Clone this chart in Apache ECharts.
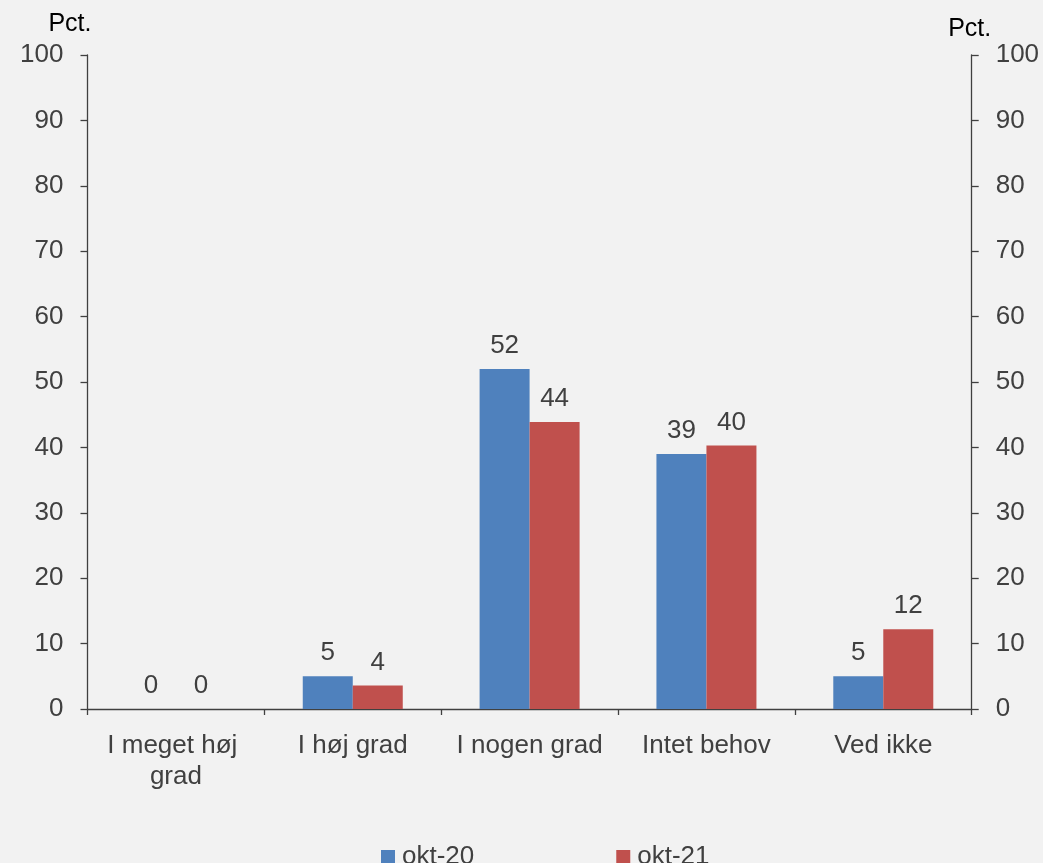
<!DOCTYPE html>
<html>
<head>
<meta charset="utf-8">
<script src="https://cdn.jsdelivr.net/npm/echarts@6/dist/echarts.min.js"></script>
<style>
html,body{margin:0;padding:0;background:#f2f2f2;}
#c{width:1043px;height:863px;}
</style>
</head>
<body>
<div id="c"></div>
<script>
const categories = ['I meget høj grad', 'I høj grad', 'I nogen grad', 'Intet behov', 'Ved ikke'];
const okt20 = [0, 5, 52, 39, 5];
const okt21 = [0, 3.6, 43.9, 40.3, 12.2];
const yTicks = { min: 0, max: 100, interval: 10 };
const seriesNames = ['okt-20', 'okt-21'];

const FONT = "'Liberation Sans', Arial, sans-serif";
const TXT = '#404040';
const chart = echarts.init(document.getElementById('c'), null, { renderer: 'canvas' });

const yAxisBase = {
  type: 'value', min: yTicks.min, max: yTicks.max, interval: yTicks.interval,
  splitLine: { show: false },
  axisLine: { show: true, lineStyle: { color: '#404040', width: 1.3 } },
  axisTick: { show: true, length: 7, lineStyle: { color: '#404040', width: 1.3 } },
  axisLabel: { color: TXT, fontSize: 26, fontFamily: FONT, margin: 24 },
  name: 'Pct.', nameLocation: 'end',
  nameTextStyle: { color: '#000', fontSize: 25, fontFamily: FONT }
};

const labelCfg = {
  show: true, position: 'top', distance: 10,
  color: TXT, fontSize: 26, fontFamily: FONT,
  formatter: p => Math.round(p.value)
};

chart.setOption({
  backgroundColor: '#f2f2f2',
  animation: false,
  textStyle: { fontFamily: FONT },
  grid: { left: 87.5, right: 71.3, top: 55, bottom: 154, containLabel: false },
  legend: {
    data: seriesNames, left: 376, top: 839, itemWidth: 14, itemHeight: 14, itemGap: 142,
    icon: 'rect',
    textStyle: { color: TXT, fontSize: 26, fontFamily: FONT, padding: [0, 0, 0, 2] }
  },
  xAxis: {
    type: 'category', data: categories,
    axisLine: { show: true, lineStyle: { color: '#404040', width: 1.3 } },
    axisTick: { show: true, length: 6, alignWithLabel: false, lineStyle: { color: '#404040', width: 1.3 } },
    axisLabel: {
      color: TXT, fontSize: 26, fontFamily: FONT, margin: 21, lineHeight: 31,
      width: 170, overflow: 'break', interval: 0
    }
  },
  yAxis: [
    Object.assign({}, yAxisBase, { position: 'left',
      nameGap: 18,
      nameTextStyle: Object.assign({}, yAxisBase.nameTextStyle, { align: 'right', padding: [0, -4, 0, 0] }) }),
    Object.assign({}, yAxisBase, { position: 'right',
      nameGap: 15,
      nameTextStyle: Object.assign({}, yAxisBase.nameTextStyle, { align: 'center', padding: [0, 4, -6, 0] }) })
  ],
  series: [
    { name: seriesNames[0], type: 'bar', data: okt20, barWidth: 50, barGap: '0%',
      itemStyle: { color: '#4f81bd' }, label: labelCfg },
    { name: seriesNames[1], type: 'bar', data: okt21, barWidth: 50, barGap: '0%',
      itemStyle: { color: '#c0504d' }, label: labelCfg }
  ]
});
</script>
</body>
</html>
